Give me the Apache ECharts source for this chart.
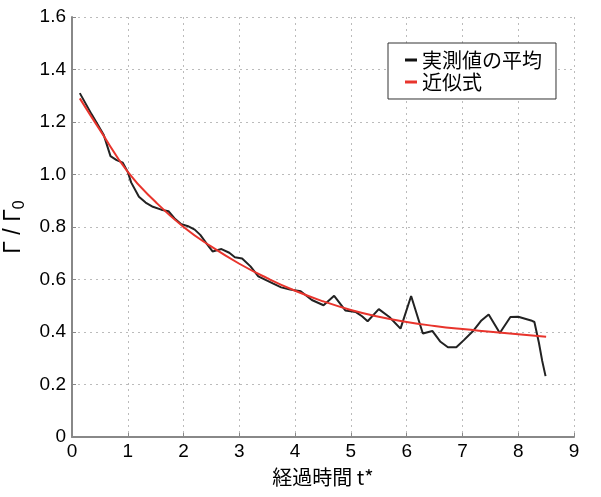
<!DOCTYPE html>
<html>
<head>
<meta charset="utf-8">
<script src="https://cdn.jsdelivr.net/npm/echarts@6/dist/echarts.min.js"></script>
<style>html,body{margin:0;padding:0;background:#fff}#c{width:601px;height:497px}</style>
</head>
<body>
<div id="c"></div>
<script>
// measured mean (t*, Γ/Γ0)
const measuredT = [0.14,0.35,0.57,0.69,0.8,0.91,1.0,1.06,1.2,1.32,1.45,1.6,1.73,1.85,1.95,2.08,2.2,2.3,2.42,2.52,2.68,2.82,2.92,3.05,3.2,3.34,3.6,3.75,3.91,4.1,4.3,4.51,4.7,4.9,5.09,5.2,5.3,5.5,5.69,5.89,6.08,6.29,6.46,6.6,6.74,6.89,7.03,7.2,7.34,7.47,7.67,7.86,8.0,8.23,8.29,8.37,8.43,8.49];
const measuredY = [1.31,1.23,1.15,1.07,1.055,1.045,1.01,0.97,0.915,0.893,0.877,0.866,0.86,0.83,0.812,0.803,0.79,0.77,0.735,0.707,0.716,0.702,0.685,0.68,0.65,0.612,0.585,0.57,0.562,0.555,0.522,0.502,0.538,0.482,0.476,0.46,0.441,0.487,0.457,0.413,0.537,0.394,0.404,0.364,0.342,0.342,0.37,0.406,0.444,0.467,0.396,0.457,0.458,0.444,0.438,0.36,0.29,0.232];
// fitted curve
const fitT = [0.14,0.5,1.0,1.5,2.0,2.5,3.0,3.5,4.0,4.5,5.0,5.5,6.0,6.5,7.0,7.5,8.0,8.5];
const fitY = [1.29,1.17,1.01,0.895,0.80,0.725,0.66,0.605,0.557,0.517,0.484,0.458,0.438,0.423,0.411,0.401,0.391,0.382];
const xTicks = [0,1,2,3,4,5,6,7,8,9];
const yTicks = [0,0.2,0.4,0.6,0.8,1.0,1.2,1.4,1.6];
const seriesNames = ['実測値の平均','近似式'];

const chart = echarts.init(document.getElementById('c'), null, {renderer:'canvas'});
const font = 'Liberation Sans, Arial, sans-serif';
const cjk = '"Noto Sans CJK JP", sans-serif';
chart.setOption({
  animation:false,
  backgroundColor:'#fff',
  grid:{left:72, top:17, right:27, bottom:60, outerBoundsMode:'none'},
  legend:{
    left:388, top:43, orient:'vertical',
    backgroundColor:'#fff', borderColor:'#333', borderWidth:1,
    padding:[7,14,7,17], itemGap:2, itemWidth:12, itemHeight:3,
    icon:'rect',
    textStyle:{fontSize:20, fontFamily:cjk, color:'#000'},
    data:seriesNames
  },
  xAxis:{
    type:'value', min:0, max:9, interval:1,
    name:'経過時間 t*', nameLocation:'middle', nameGap:30,
    nameTextStyle:{fontSize:20, fontFamily:cjk, color:'#000'},
    axisLine:{show:true, lineStyle:{color:'#888', width:2}},
    axisTick:{show:true, inside:true, length:4, lineStyle:{color:'#888'}},
    axisLabel:{fontSize:19, fontFamily:font, color:'#000', margin:5,
      formatter:(v)=>String(xTicks[Math.round(v)])},
    splitLine:{show:true, lineStyle:{color:'#bbb', type:[2,4], width:1}}
  },
  yAxis:{
    type:'value', min:0, max:1.6, interval:0.2,
    name:'{a|Γ / Γ}{s|0}', nameLocation:'middle', nameGap:44, nameRotate:90,
    nameTextStyle:{fontSize:23, fontFamily:font, color:'#000',
      rich:{a:{fontSize:23, fontFamily:font, color:'#000'}, s:{fontSize:16, fontFamily:font, color:'#000', padding:[12,0,0,0]}}},
    axisLine:{show:true, lineStyle:{color:'#888', width:2}},
    axisTick:{show:true, inside:true, length:4, lineStyle:{color:'#888'}},
    axisLabel:{fontSize:19, fontFamily:font, color:'#000', margin:6,
      formatter:(v)=>{const i=Math.round(v/0.2); const t=yTicks[i]; return t===0?'0':t.toFixed(1);}},
    splitLine:{show:true, lineStyle:{color:'#bbb', type:[2,4], width:1}}
  },
  series:[
    {name:seriesNames[0], type:'line', data:measuredT.map((t,i)=>[t,measuredY[i]]),
     showSymbol:false, lineStyle:{color:'#222', width:2}, itemStyle:{color:'#111'}, z:2},
    {name:seriesNames[1], type:'line', data:fitT.map((t,i)=>[t,fitY[i]]), smooth:true,
     showSymbol:false, lineStyle:{color:'#e8342c', width:2}, itemStyle:{color:'#e8342c'}, z:3}
  ]
});
</script>
</body>
</html>
